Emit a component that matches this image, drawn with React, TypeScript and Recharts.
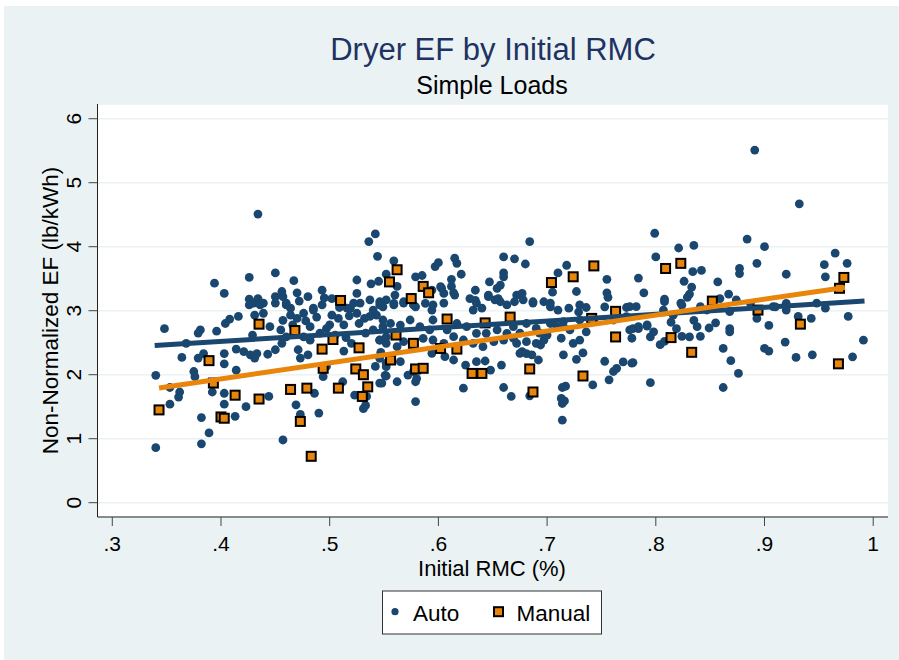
import { ScatterChart, Scatter, XAxis, YAxis, CartesianGrid } from "recharts";

// Colours / fonts (Stata s2color look)
const NAVY = "#1A476F";
const ORANGE = "#E8850A";
const TITLE_NAVY = "#1F3263";
const BG = "#EAF2F3";
const FONT = '"Liberation Sans", Arial, Helvetica, sans-serif';

// Axis ticks
const xTicks = [0.3, 0.4, 0.5, 0.6, 0.7, 0.8, 0.9, 1];
const xTickLabels = [".3", ".4", ".5", ".6", ".7", ".8", ".9", "1"];
const yTicks = [0, 1, 2, 3, 4, 5, 6];

// Auto loads: [initial RMC, EF]
const autoPoints: [number, number][] = [
  [0.34, 0.86], [0.34, 1.99], [0.348, 2.72], [0.353, 1.54], [0.353, 1.8], [0.361, 1.65], [0.362, 1.73],
  [0.364, 2.27], [0.368, 2.49], [0.375, 2.05], [0.376, 1.97], [0.379, 2.65], [0.381, 2.7], [0.379, 2.26],
  [0.384, 2.33], [0.382, 1.33], [0.382, 0.92], [0.389, 1.09], [0.396, 2.68], [0.394, 3.43], [0.392, 1.73],
  [0.403, 3.27], [0.403, 2.33], [0.403, 2.17], [0.403, 1.71], [0.403, 1.54], [0.404, 2.8], [0.408, 2.87],
  [0.416, 2.91], [0.414, 2.07], [0.414, 2.4], [0.421, 2.36], [0.413, 1.35], [0.423, 1.5], [0.426, 3.52],
  [0.426, 3.18], [0.426, 3.09], [0.43, 3.12], [0.434, 3.19], [0.436, 3.09], [0.439, 3.12], [0.434, 4.51],
  [0.427, 2.31], [0.431, 2.26], [0.433, 2.33], [0.429, 2.62], [0.431, 2.93], [0.439, 2.96], [0.443, 2.32],
  [0.444, 1.66], [0.45, 2.39], [0.456, 2.49], [0.46, 2.59], [0.45, 3.59], [0.45, 3.22], [0.45, 3.12],
  [0.457, 3.22], [0.46, 3.12], [0.464, 3.04], [0.46, 3.09], [0.464, 2.93], [0.457, 2.85], [0.47, 2.88],
  [0.476, 2.96], [0.482, 2.75], [0.467, 3.47], [0.457, 0.98], [0.469, 1.53], [0.473, 1.38], [0.471, 2.39],
  [0.473, 2.26], [0.48, 2.31], [0.476, 2.59], [0.482, 2.54], [0.491, 2.65], [0.485, 3.01], [0.493, 3.09],
  [0.485, 3.04], [0.493, 3.32], [0.486, 1.71], [0.49, 1.4], [0.494, 1.97], [0.497, 2.13], [0.5, 2.78],
  [0.502, 2.93], [0.502, 3.19], [0.508, 2.88], [0.513, 2.78], [0.519, 3.04], [0.522, 3.12], [0.525, 2.96],
  [0.525, 3.48], [0.525, 3.27], [0.513, 2.37], [0.512, 1.89], [0.52, 2.49], [0.523, 1.68], [0.533, 1.52],
  [0.531, 1.47], [0.534, 1.66], [0.533, 2.65], [0.54, 2.7], [0.546, 2.54], [0.547, 2.35], [0.542, 2.13],
  [0.546, 1.87], [0.551, 1.99], [0.552, 2.18], [0.537, 2.91], [0.54, 3.01], [0.546, 3.09], [0.543, 2.93],
  [0.549, 2.75], [0.552, 2.59], [0.536, 4.08], [0.542, 4.2], [0.544, 3.85], [0.538, 3.42], [0.545, 3.46],
  [0.552, 3.57], [0.516, 3.04], [0.528, 3.12], [0.537, 3.17], [0.546, 3.14],
  [0.445, 2.75], [0.455, 2.7], [0.466, 2.78], [0.478, 2.84], [0.488, 2.9], [0.497, 2.72], [0.505, 2.62],
  [0.515, 2.58], [0.527, 2.8], [0.532, 2.88], [0.518, 2.92], [0.509, 3.05], [0.495, 3.2], [0.472, 3.15],
  [0.48, 3.22], [0.47, 3.28], [0.456, 3.3],
  [0.684, 4.08], [0.66, 3.84], [0.67, 3.81], [0.68, 3.73], [0.718, 3.71], [0.71, 3.59], [0.755, 3.49],
  [0.727, 3.3], [0.705, 3.29], [0.755, 3.28], [0.756, 3.21], [0.784, 3.51], [0.615, 3.82], [0.617, 3.74],
  [0.597, 3.69], [0.6, 3.75], [0.621, 3.57], [0.612, 3.49], [0.585, 3.55], [0.579, 3.53], [0.559, 3.78],
  [0.562, 3.38], [0.647, 3.45], [0.654, 3.35], [0.657, 3.4], [0.634, 3.32], [0.612, 3.38], [0.603, 3.35],
  [0.594, 3.32], [0.66, 3.59], [0.66, 3.53], [0.614, 3.28], [0.789, 3.28], [0.602, 3.375], [0.605, 3.27],
  [0.615, 3.245], [0.629, 3.19], [0.635, 3.12], [0.64, 3.04], [0.632, 3.01], [0.646, 3.245], [0.655, 3.19],
  [0.657, 3.14], [0.663, 3.09], [0.672, 3.245], [0.677, 3.27], [0.678, 3.17], [0.67, 3.14], [0.687, 3.14],
  [0.697, 3.14], [0.703, 3.06], [0.71, 3.01], [0.72, 3.04], [0.729, 2.98], [0.736, 3.05], [0.753, 3.06],
  [0.773, 3.05], [0.552, 3.17], [0.56, 3.245], [0.559, 3.09], [0.568, 3.12], [0.579, 3.06], [0.595, 3.09],
  [0.605, 3.12], [0.634, 3.16], [0.646, 3.22], [0.652, 3.17], [0.687, 3.12], [0.703, 3.12], [0.73, 3.09],
  [0.549, 3.06], [0.559, 3.115], [0.568, 3.14], [0.577, 3.09], [0.588, 3.115], [0.594, 3.01],
  [0.549, 2.855], [0.556, 2.8], [0.565, 2.776], [0.574, 2.855], [0.583, 2.75], [0.592, 2.7], [0.595, 2.855],
  [0.608, 2.7], [0.617, 2.8], [0.626, 2.75], [0.635, 2.646], [0.644, 2.646], [0.654, 2.7], [0.663, 2.646],
  [0.669, 2.75], [0.681, 2.8], [0.69, 2.724], [0.703, 2.8], [0.709, 2.75], [0.721, 2.7], [0.73, 2.855],
  [0.743, 2.855], [0.761, 2.855], [0.773, 2.907], [0.784, 2.75], [0.792, 2.78], [0.776, 2.7], [0.715, 2.83],
  [0.546, 2.542], [0.552, 2.49], [0.562, 2.438], [0.568, 2.516], [0.586, 2.568], [0.595, 2.542], [0.605, 2.49],
  [0.614, 2.594], [0.623, 2.542], [0.632, 2.49], [0.641, 2.438], [0.651, 2.516], [0.66, 2.542], [0.672, 2.49],
  [0.681, 2.516], [0.694, 2.464], [0.73, 2.54], [0.736, 2.67], [0.724, 2.49], [0.713, 2.57], [0.715, 2.75],
  [0.7, 2.62], [0.697, 2.54], [0.69, 2.49], [0.693, 2.65], [0.675, 2.65], [0.669, 2.57], [0.779, 2.72],
  [0.546, 2.256], [0.552, 2.125], [0.565, 2.203], [0.572, 1.995], [0.577, 2.047], [0.594, 2.334], [0.603, 2.386],
  [0.606, 2.282], [0.614, 2.23], [0.625, 2.151], [0.635, 2.203], [0.643, 2.214], [0.648, 2.073], [0.658, 2.151],
  [0.675, 2.334], [0.714, 1.29], [0.714, 1.55], [0.716, 1.59], [0.713, 1.63], [0.714, 1.8], [0.717, 1.82],
  [0.742, 1.84], [0.757, 1.92], [0.761, 2.05], [0.764, 2.1], [0.579, 1.58], [0.579, 1.89], [0.58, 1.94],
  [0.562, 1.89], [0.552, 1.98], [0.548, 1.87], [0.623, 1.79], [0.66, 1.8], [0.667, 1.66], [0.684, 1.67],
  [0.692, 2.23], [0.677, 2.36], [0.681, 2.33], [0.686, 2.31], [0.715, 2.31], [0.727, 2.24], [0.733, 2.34],
  [0.753, 2.21], [0.77, 2.2], [0.778, 2.18],
  [0.891, 5.51], [0.932, 4.67], [0.799, 4.21], [0.884, 4.12], [0.821, 3.98], [0.835, 4.02], [0.9, 4.0],
  [0.8, 3.84], [0.965, 3.9], [0.955, 3.72], [0.976, 3.74], [0.893, 3.74], [0.877, 3.66], [0.877, 3.58],
  [0.92, 3.57], [0.956, 3.53], [0.842, 3.63], [0.826, 3.46], [0.834, 3.61], [0.857, 3.45], [0.808, 3.18],
  [0.833, 3.37], [0.831, 3.26], [0.829, 3.21], [0.823, 3.12], [0.867, 3.26], [0.859, 3.19], [0.874, 3.17],
  [0.776, 3.063], [0.807, 3.01], [0.841, 3.063], [0.887, 3.115], [0.908, 3.063], [0.92, 3.115], [0.948, 3.12],
  [0.795, 1.875], [0.862, 1.8], [0.876, 2.02], [0.869, 2.22], [0.862, 2.41], [0.9, 2.41], [0.904, 2.37],
  [0.919, 2.51], [0.929, 2.27], [0.944, 2.31], [0.981, 2.28], [0.991, 2.54], [0.977, 2.91], [0.943, 2.88],
  [0.931, 2.91], [0.956, 3.04], [0.92, 3.01], [0.91, 3.06], [0.893, 2.88], [0.904, 2.77], [0.868, 2.72],
  [0.868, 2.67], [0.855, 2.81], [0.849, 2.73], [0.841, 2.6], [0.831, 2.59], [0.824, 2.6], [0.838, 2.75],
  [0.835, 2.85], [0.819, 2.72], [0.814, 2.82], [0.816, 2.93], [0.804, 2.47], [0.808, 2.52], [0.795, 2.59],
  [0.798, 2.67], [0.792, 2.76], [0.784, 2.72], [0.778, 2.57], [0.779, 2.19], [0.824, 3.089], [0.808, 3.141],
  [0.782, 3.063], [0.847, 3.011], [0.868, 2.985],
];

// Manual loads
const manualPoints: [number, number][] = [
  [0.343, 1.45], [0.389, 2.22], [0.393, 1.87], [0.4, 1.34], [0.403, 1.32], [0.413, 1.68], [0.435, 2.79],
  [0.435, 1.62], [0.464, 1.77], [0.468, 2.69], [0.473, 1.27], [0.479, 1.79], [0.483, 0.725], [0.493, 2.4],
  [0.494, 2.1], [0.503, 2.55], [0.508, 1.79], [0.51, 3.16], [0.527, 2.42], [0.524, 2.09], [0.531, 2.0],
  [0.535, 1.81], [0.53, 1.66], [0.556, 2.23], [0.555, 3.45], [0.562, 3.64], [0.586, 3.38], [0.591, 3.28],
  [0.575, 3.19], [0.561, 2.62], [0.577, 2.49], [0.579, 2.09], [0.586, 2.1], [0.602, 2.41], [0.617, 2.4],
  [0.631, 2.02], [0.64, 2.02], [0.608, 2.87], [0.643, 2.81], [0.666, 2.9], [0.684, 2.09], [0.687, 1.73],
  [0.704, 3.44], [0.724, 3.53], [0.743, 3.7], [0.733, 1.98], [0.741, 2.88], [0.763, 2.99], [0.763, 2.59],
  [0.809, 3.66], [0.823, 3.74], [0.814, 2.58], [0.833, 2.35], [0.852, 3.15], [0.894, 3.01], [0.933, 2.79],
  [0.968, 2.17], [0.969, 3.35], [0.973, 3.52],
];

// linear fit endpoints
const autoFit: [number, number][] = [[0.339, 2.455], [0.992, 3.15]];
const manualFit: [number, number][] = [[0.343, 1.793], [0.974, 3.364]];

const toXY = (pts: [number, number][]) => pts.map(([x, y]) => ({ x, y }));

function XTick(props: any) {
  const { x, y, payload } = props;
  const label = xTickLabels[xTicks.indexOf(payload.value)];
  return (
    <text x={x} y={y} dy={25} textAnchor="middle" fontSize={21} fill="#000" fontFamily={FONT}>
      {label}
    </text>
  );
}

function YTick(props: any) {
  const { x, y, payload } = props;
  const bx = x - 7.5;
  return (
    <text x={bx} y={y} transform={`rotate(-90 ${bx} ${y})`} textAnchor="middle" fontSize={21} fill="#000" fontFamily={FONT}>
      {payload.value}
    </text>
  );
}

const AutoDot = (p: any) => <circle cx={p.cx} cy={p.cy} r={4.4} fill={NAVY} />;
const ManualSquare = (p: any) => (
  <rect x={p.cx - 4.5} y={p.cy - 4.5} width={9} height={9} fill={ORANGE} stroke="#000" strokeWidth={2} />
);
const NoDot = () => <g />;

export default function App() {
  return (
    <div style={{ position: "absolute", left: 0, top: 0, width: 899, height: 660, background: "#fff" }}>
      <div style={{ position: "absolute", left: 4, top: 6, width: 895, height: 654, background: BG }} />
      <div style={{ position: "absolute", left: 0, top: 0 }}>
        <ScatterChart width={899} height={660} margin={{ top: 104, right: 11, bottom: 83, left: 37.5 }}>
          <CartesianGrid vertical={false} stroke={BG} strokeWidth={1.5} fill="#fff" />
          <XAxis
            type="number"
            dataKey="x"
            domain={[0.2864, 1.0136]}
            ticks={xTicks}
            allowDataOverflow
            height={60}
            tickSize={9}
            tickMargin={0}
            tick={<XTick />}
            axisLine={{ stroke: "#222", strokeWidth: 1 }}
            tickLine={{ stroke: "#444", strokeWidth: 1 }}
          />
          <YAxis
            type="number"
            dataKey="y"
            domain={[-0.2234, 6.23]}
            ticks={yTicks}
            allowDataOverflow
            width={60}
            tickSize={9}
            tickMargin={0}
            tick={<YTick />}
            axisLine={{ stroke: "#222", strokeWidth: 1 }}
            tickLine={{ stroke: "#444", strokeWidth: 1 }}
          />
          <Scatter data={toXY(autoPoints)} shape={AutoDot} isAnimationActive={false} />
          <Scatter data={toXY(manualPoints)} shape={ManualSquare} isAnimationActive={false} />
          <Scatter
            data={toXY(autoFit)}
            shape={NoDot}
            line={{ stroke: NAVY, strokeWidth: 5 }}
            lineType="joint"
            isAnimationActive={false}
          />
          <Scatter
            data={toXY(manualFit)}
            shape={NoDot}
            line={{ stroke: ORANGE, strokeWidth: 5 }}
            lineType="joint"
            isAnimationActive={false}
          />
        </ScatterChart>
      </div>
      <svg width={899} height={660} style={{ position: "absolute", left: 0, top: 0, pointerEvents: "none" }} fontFamily={FONT}>
        <text x={493} y={59.5} textAnchor="middle" fontSize={31} fill={TITLE_NAVY}>
          Dryer EF by Initial RMC
        </text>
        <text x={492} y={94} textAnchor="middle" fontSize={25} fill="#000">
          Simple Loads
        </text>
        <text x={492} y={576} textAnchor="middle" fontSize={22} fill="#000">
          Initial RMC (%)
        </text>
        <text x={58} y={310.5} transform="rotate(-90 58 310.5)" textAnchor="middle" fontSize={22.5} fill="#000">
          Non-Normalized EF (lb/kWh)
        </text>
        <rect x={382.5} y={591} width={219} height={43} fill="#fff" stroke="#333" strokeWidth={1} />
        <circle cx={395} cy={611.7} r={3.6} fill={NAVY} />
        <text x={413} y={620.5} fontSize={22.5} fill="#000">Auto</text>
        <rect x={494} y={607.2} width={9} height={9} fill={ORANGE} stroke="#000" strokeWidth={2} />
        <text x={516.5} y={620.5} fontSize={22.5} fill="#000">Manual</text>
      </svg>
    </div>
  );
}
